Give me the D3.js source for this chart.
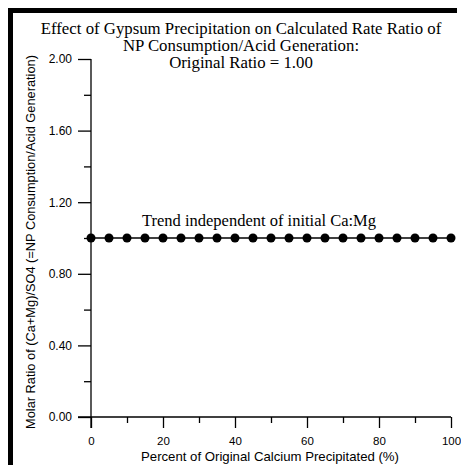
<!DOCTYPE html>
<html>
<head>
<meta charset="utf-8">
<script src="https://cdn.jsdelivr.net/npm/d3@7"></script>
<style>
  html, body { margin: 0; padding: 0; background: #fff; }
  svg { display: block; }
</style>
</head>
<body>
<svg id="chart" width="461" height="465"></svg>
<script>
// Percent of original calcium precipitated and resulting molar ratio
const percentPrecipitated = [0, 5, 10, 15, 20, 25, 30, 35, 40, 45, 50, 55, 60, 65, 70, 75, 80, 85, 90, 95, 100];
const molarRatio = [1.00, 1.00, 1.00, 1.00, 1.00, 1.00, 1.00, 1.00, 1.00, 1.00, 1.00, 1.00, 1.00, 1.00, 1.00, 1.00, 1.00, 1.00, 1.00, 1.00, 1.00];
const xMajorTicks = [0, 20, 40, 60, 80, 100];
const xMinorTicks = [10, 30, 50, 70, 90];
const yMajorTicks = [0, 0.4, 0.8, 1.2, 1.6, 2.0];
const yMinorTicks = [0.2, 0.6, 1.0, 1.4, 1.8];
const titleLines = [
  "Effect of Gypsum Precipitation on Calculated Rate Ratio of",
  "NP Consumption/Acid Generation:",
  "Original Ratio = 1.00"
];
const annotation = "Trend independent of initial Ca:Mg";

const svg = d3.select("#chart");
const serif = "'Liberation Serif', 'Times New Roman', serif";
const sans = "'Liberation Sans', Arial, sans-serif";

// Frame on the left and top
svg.append("rect").attr("x", 8).attr("y", 8).attr("width", 5).attr("height", 457).attr("fill", "#000");
svg.append("rect").attr("x", 8).attr("y", 8).attr("width", 449).attr("height", 5).attr("fill", "#000");

const x = d3.scaleLinear().domain([0, 100]).range([91, 451]);
const y = d3.scaleLinear().domain([0, 2]).range([417, 59]);

// Axes
const xAxis = svg.append("g").attr("transform", `translate(0,${y(0)})`);
xAxis.call(d3.axisBottom(x).tickValues(xMajorTicks).tickSize(11).tickSizeOuter(0).tickFormat(d3.format("d")));
xAxis.append("g").call(d3.axisBottom(x).tickValues(xMinorTicks).tickSize(6).tickFormat(""));
xAxis.selectAll(".domain").remove();
xAxis.selectAll("line").attr("stroke", "#000").attr("stroke-width", 1.3);
xAxis.selectAll("text").attr("font-family", sans).attr("font-size", 11.5).attr("fill", "#000").attr("dy", "1.2em");

const yAxis = svg.append("g").attr("transform", `translate(${x(0)},0)`);
yAxis.call(d3.axisLeft(y).tickValues(yMajorTicks).tickSize(13).tickSizeOuter(0).tickFormat(d3.format(".2f")));
yAxis.append("g").call(d3.axisLeft(y).tickValues(yMinorTicks).tickSize(7).tickFormat(""));
yAxis.selectAll(".domain").remove();
yAxis.selectAll("line").attr("stroke", "#000").attr("stroke-width", 1.3);
yAxis.selectAll("text").attr("font-family", sans).attr("font-size", 12).attr("fill", "#000").attr("dx", "-0.25em");

// Axis lines: x axis reaches left to the 0.00 tick, y axis reaches down to the 0 tick
svg.append("line").attr("x1", x(0) - 13).attr("x2", x(100)).attr("y1", y(0)).attr("y2", y(0))
  .attr("stroke", "#000").attr("stroke-width", 1.3);
svg.append("line").attr("x1", x(0)).attr("x2", x(0)).attr("y1", y(2)).attr("y2", y(0) + 11)
  .attr("stroke", "#000").attr("stroke-width", 1.3);

// Data line and markers
const pts = percentPrecipitated.map((p, i) => [p, molarRatio[i]]);
svg.append("path").datum(pts)
  .attr("d", d3.line().x(d => x(d[0])).y(d => y(d[1])))
  .attr("fill", "none").attr("stroke", "#000").attr("stroke-width", 1.5);
svg.append("g").selectAll("circle").data(pts).join("circle")
  .attr("cx", d => x(d[0])).attr("cy", d => y(d[1])).attr("r", 4.5).attr("fill", "#000");

// Title
svg.append("g").selectAll("text").data(titleLines).join("text")
  .attr("x", 241).attr("y", (d, i) => 33.5 + i * 17.2)
  .attr("text-anchor", "middle").attr("font-family", serif).attr("font-size", 16.8).attr("fill", "#000")
  .text(d => d);

// Annotation
svg.append("text").attr("x", 259).attr("y", 225.5).attr("text-anchor", "middle")
  .attr("font-family", serif).attr("font-size", 16.5).attr("fill", "#000").text(annotation);

// Axis titles
svg.append("text").attr("x", 270).attr("y", 461).attr("text-anchor", "middle")
  .attr("font-family", sans).attr("font-size", 13.2).attr("fill", "#000")
  .text("Percent of Original Calcium Precipitated (%)");
svg.append("text").attr("transform", `translate(34.5,242) rotate(-90)`).attr("text-anchor", "middle")
  .attr("font-family", sans).attr("font-size", 12.8).attr("fill", "#000")
  .text("Molar Ratio of (Ca+Mg)/SO4 (=NP Consumption/Acid Generation)");
</script>
</body>
</html>
